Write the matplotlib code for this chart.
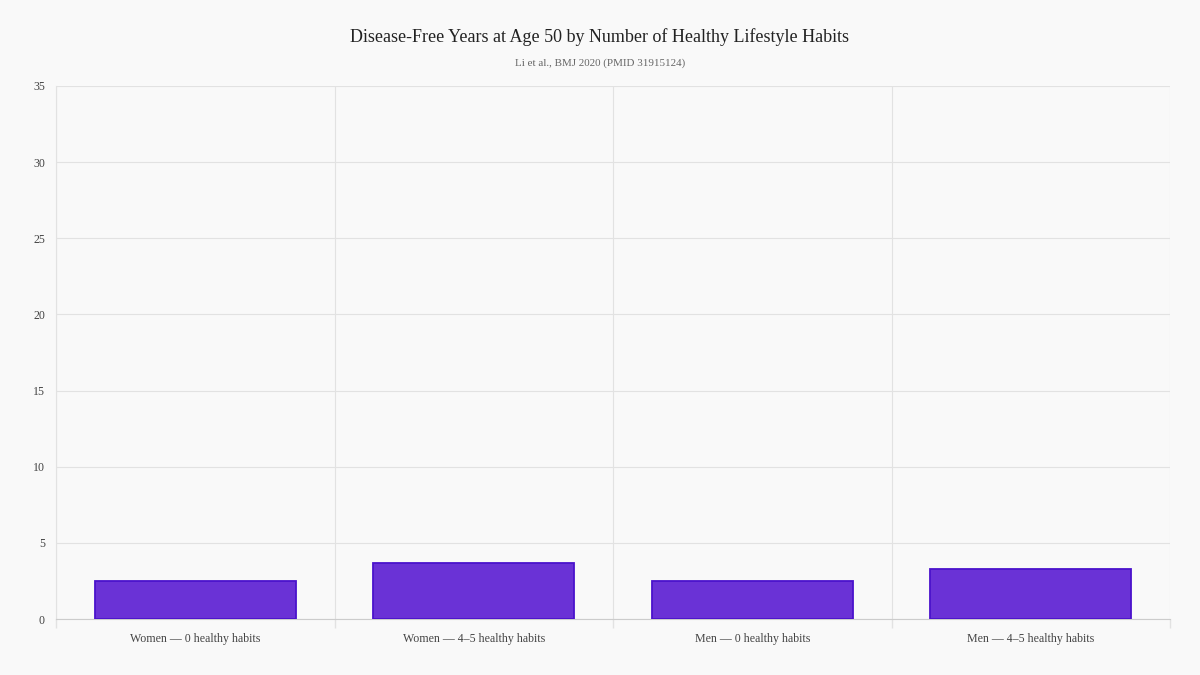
import numpy as np
import matplotlib.pyplot as plt

categories = ['Women — 0 healthy habits', 'Women — 4–5 healthy habits',
              'Men — 0 healthy habits', 'Men — 4–5 healthy habits']
years = [2.5, 3.7, 2.5, 3.3]
y_ticks = [0, 5, 10, 15, 20, 25, 30, 35]

plt.rcParams['font.family'] = ['Liberation Serif', 'DejaVu Serif']

bg = '#f9f9f9'
grid_c = '#e2e2e2'

fig = plt.figure(figsize=(12, 6.75), dpi=100, facecolor=bg)
ax = fig.add_axes([56 / 1200, 1 - 619 / 675, (1170 - 56) / 1200, (619 - 86) / 675])
ax.set_facecolor(bg)

x = np.arange(len(categories))
ax.bar(x, years, width=0.72, color='#6a32d6', edgecolor='#4a12cc', linewidth=1.3, zorder=3)

ax.set_xlim(-0.5, len(categories) - 0.5)
ax.set_ylim(0, 35)
ax.set_yticks(y_ticks)
ax.set_yticklabels([str(v) for v in y_ticks], fontsize=8.6, color='#444444')
ax.tick_params(axis='y', length=0, pad=8)

ax.set_xticks(x)
ax.set_xticklabels(categories, fontsize=8.6, color='#444444')
ax.tick_params(axis='x', length=0, pad=10)
ax.set_xticks(np.arange(-0.5, len(categories), 1), minor=True)
ax.tick_params(axis='x', which='minor', length=6.5, color=grid_c, width=1)

ax.grid(axis='y', color=grid_c, linewidth=0.8, zorder=0)
ax.grid(axis='x', which='minor', color=grid_c, linewidth=0.8, zorder=0)
ax.grid(axis='x', which='major', visible=False)

for s in ['top', 'right']:
    ax.spines[s].set_visible(False)
ax.spines['left'].set_color(grid_c)
ax.spines['bottom'].set_color('#cccccc')

fig.text(0.5, 1 - 37 / 675, 'Disease-Free Years at Age 50 by Number of Healthy Lifestyle Habits',
         ha='center', va='center', fontsize=13, color='#222222')
fig.text(0.5, 1 - 63 / 675, 'Li et al., BMJ 2020 (PMID 31915124)',
         ha='center', va='center', fontsize=7.9, color='#666666')

fig.savefig('out.png', dpi=100, facecolor=bg)
